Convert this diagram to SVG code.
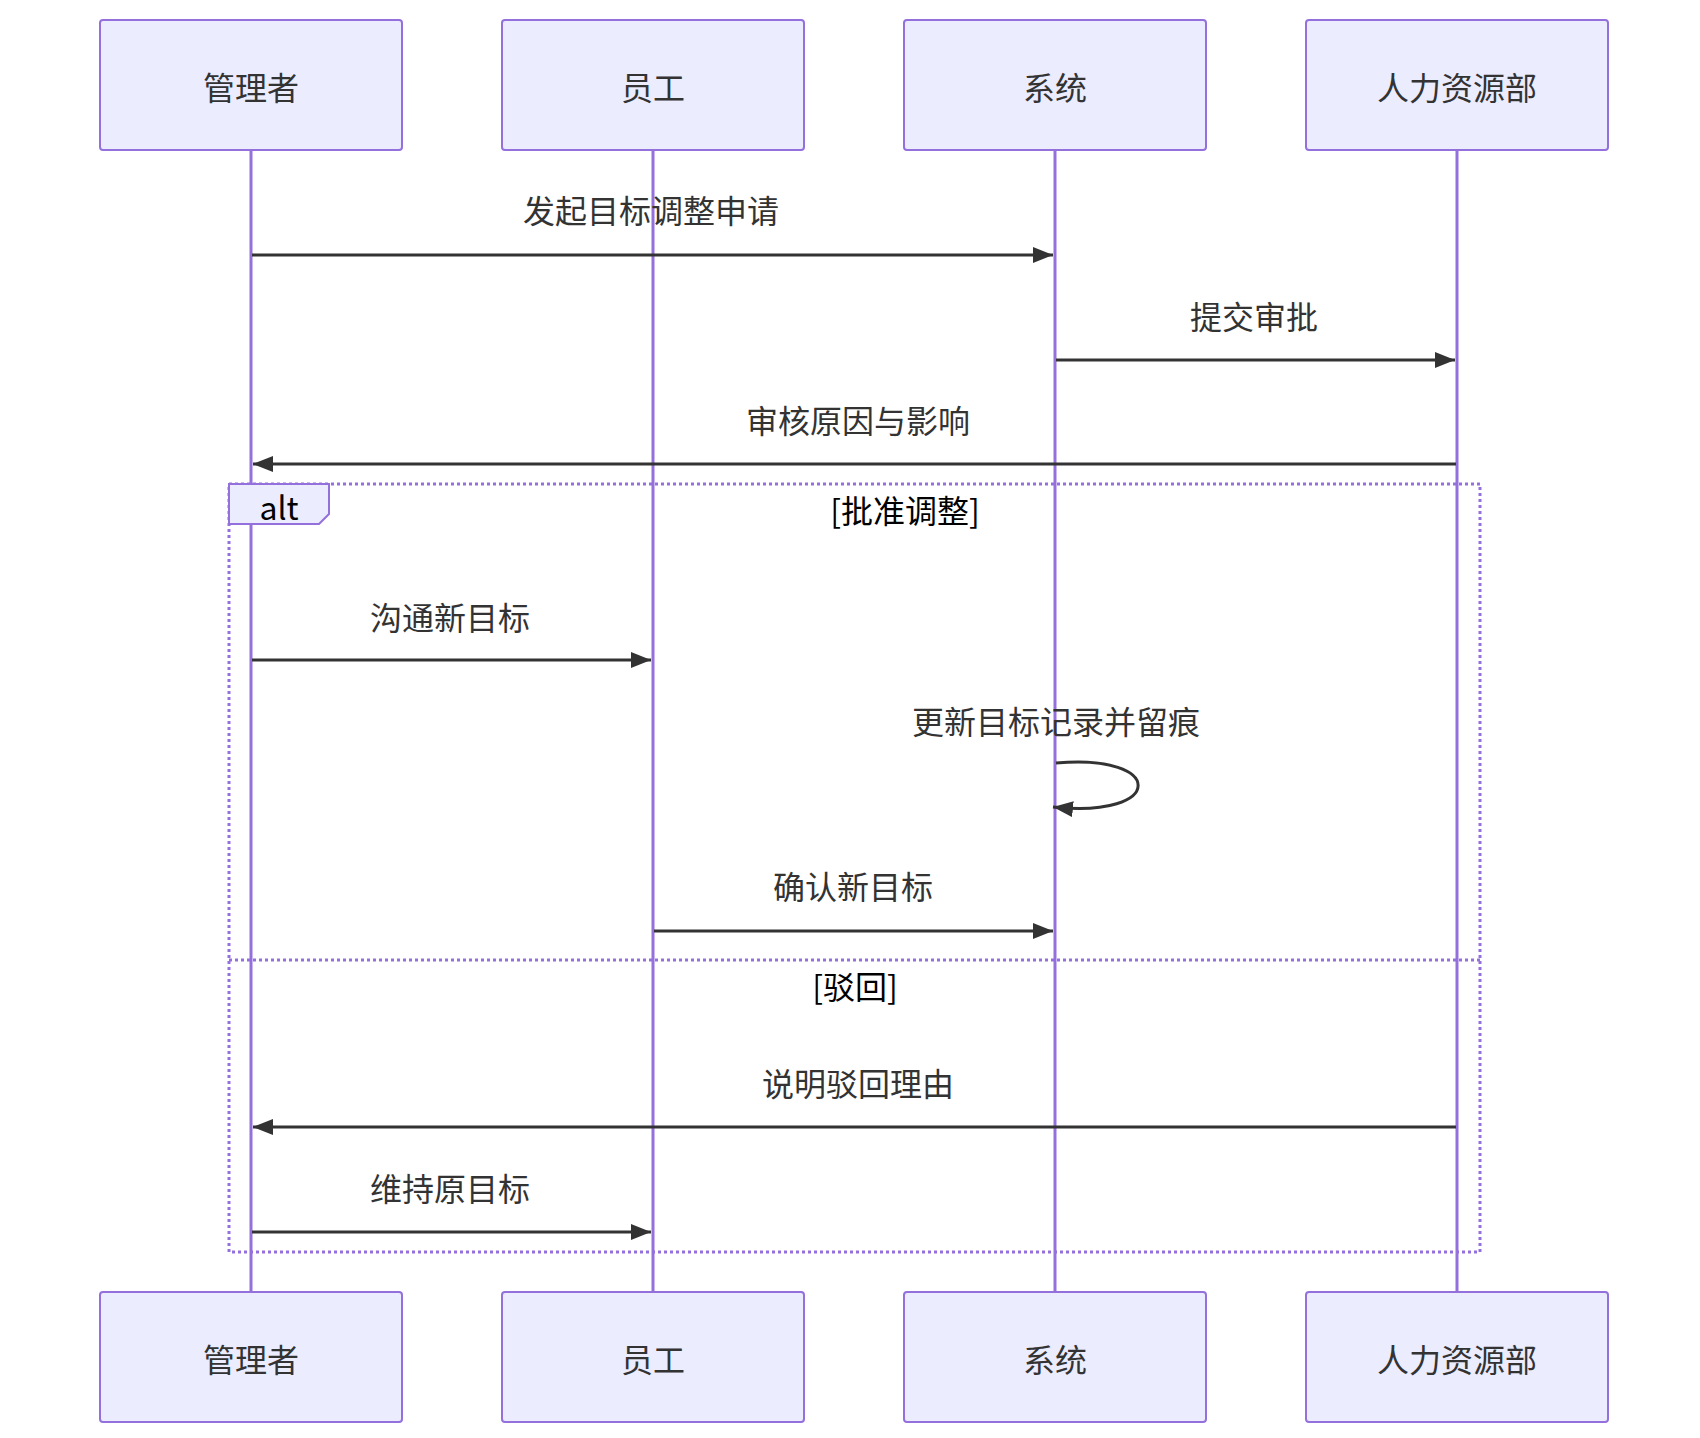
<svg xmlns="http://www.w3.org/2000/svg" width="1700" height="1438" viewBox="0 0 1700 1438">
<style>
.actor{fill:#ECECFF;stroke:#9370DB;stroke-width:2}
.life{stroke:#9370DB;stroke-width:3}
text{font-family:"Noto Sans CJK SC","Liberation Sans",sans-serif;font-size:32px;fill:#333;text-anchor:middle;dominant-baseline:central}
.msg{stroke:#333;stroke-width:3;fill:none}
.loop{stroke:#9370DB;stroke-width:3;fill:none;stroke-dasharray:3 3}
.lbl{fill:#000}
</style>
<defs><marker id="ah" viewBox="0 0 12 10" refX="12" refY="5" markerWidth="12" markerHeight="10" markerUnits="userSpaceOnUse" orient="auto"><path d="M0,0L12,5L0,10z" fill="#333"/></marker>
<marker id="ah2" viewBox="0 0 20 16" refX="20" refY="8" markerWidth="20" markerHeight="16" markerUnits="userSpaceOnUse" orient="auto"><path d="M0,0L20,8L0,16z" fill="#333"/></marker></defs>
<g id="lifelines">
<line class="life" x1="251" y1="150" x2="251" y2="1292"/><line class="life" x1="653" y1="150" x2="653" y2="1292"/><line class="life" x1="1055" y1="150" x2="1055" y2="1292"/><line class="life" x1="1457" y1="150" x2="1457" y2="1292"/>
</g>
<g id="actor-m"><rect class="actor" x="100" y="20" width="302" height="130" rx="3"/><text x="251" y="86">管理者</text><rect class="actor" x="100" y="1292" width="302" height="130" rx="3"/><text x="251" y="1358">管理者</text></g>
<g id="actor-e"><rect class="actor" x="502" y="20" width="302" height="130" rx="3"/><text x="653" y="86">员工</text><rect class="actor" x="502" y="1292" width="302" height="130" rx="3"/><text x="653" y="1358">员工</text></g>
<g id="actor-s"><rect class="actor" x="904" y="20" width="302" height="130" rx="3"/><text x="1055" y="86">系统</text><rect class="actor" x="904" y="1292" width="302" height="130" rx="3"/><text x="1055" y="1358">系统</text></g>
<g id="actor-h"><rect class="actor" x="1306" y="20" width="302" height="130" rx="3"/><text x="1457" y="86">人力资源部</text><rect class="actor" x="1306" y="1292" width="302" height="130" rx="3"/><text x="1457" y="1358">人力资源部</text></g>
<g id="alt">
<rect class="loop" x="229" y="484" width="1251" height="768"/>
<line class="loop" x1="229" y1="960" x2="1480" y2="960"/>
<path d="M229,484H329V514L319,524H229z" fill="#ECECFF" stroke="#9370DB" stroke-width="2"/>
<text class="lbl" x="279" y="506">alt</text>
<text class="lbl" x="905" y="509">[批准调整]</text>
<text class="lbl" x="855" y="985">[驳回]</text>
</g>
<g id="connectors">
<line class="msg" x1="252" y1="255" x2="1053" y2="255" marker-end="url(#ah2)"/><text x="651" y="209">发起目标调整申请</text>
<line class="msg" x1="1056" y1="360" x2="1455" y2="360" marker-end="url(#ah2)"/><text x="1254" y="315">提交审批</text>
<line class="msg" x1="1456" y1="464" x2="253" y2="464" marker-end="url(#ah2)"/><text x="858" y="419">审核原因与影响</text>
<line class="msg" x1="252" y1="660" x2="651" y2="660" marker-end="url(#ah2)"/><text x="450" y="616">沟通新目标</text>
<path class="msg" d="M1056,763C1166,753 1166,819 1053,807" marker-end="url(#ah2)"/><text x="1056" y="720">更新目标记录并留痕</text>
<line class="msg" x1="654" y1="931" x2="1053" y2="931" marker-end="url(#ah2)"/><text x="853" y="885">确认新目标</text>
<line class="msg" x1="1456" y1="1127" x2="253" y2="1127" marker-end="url(#ah2)"/><text x="858" y="1082">说明驳回理由</text>
<line class="msg" x1="252" y1="1232" x2="651" y2="1232" marker-end="url(#ah2)"/><text x="450" y="1187">维持原目标</text>
</g>
</svg>
